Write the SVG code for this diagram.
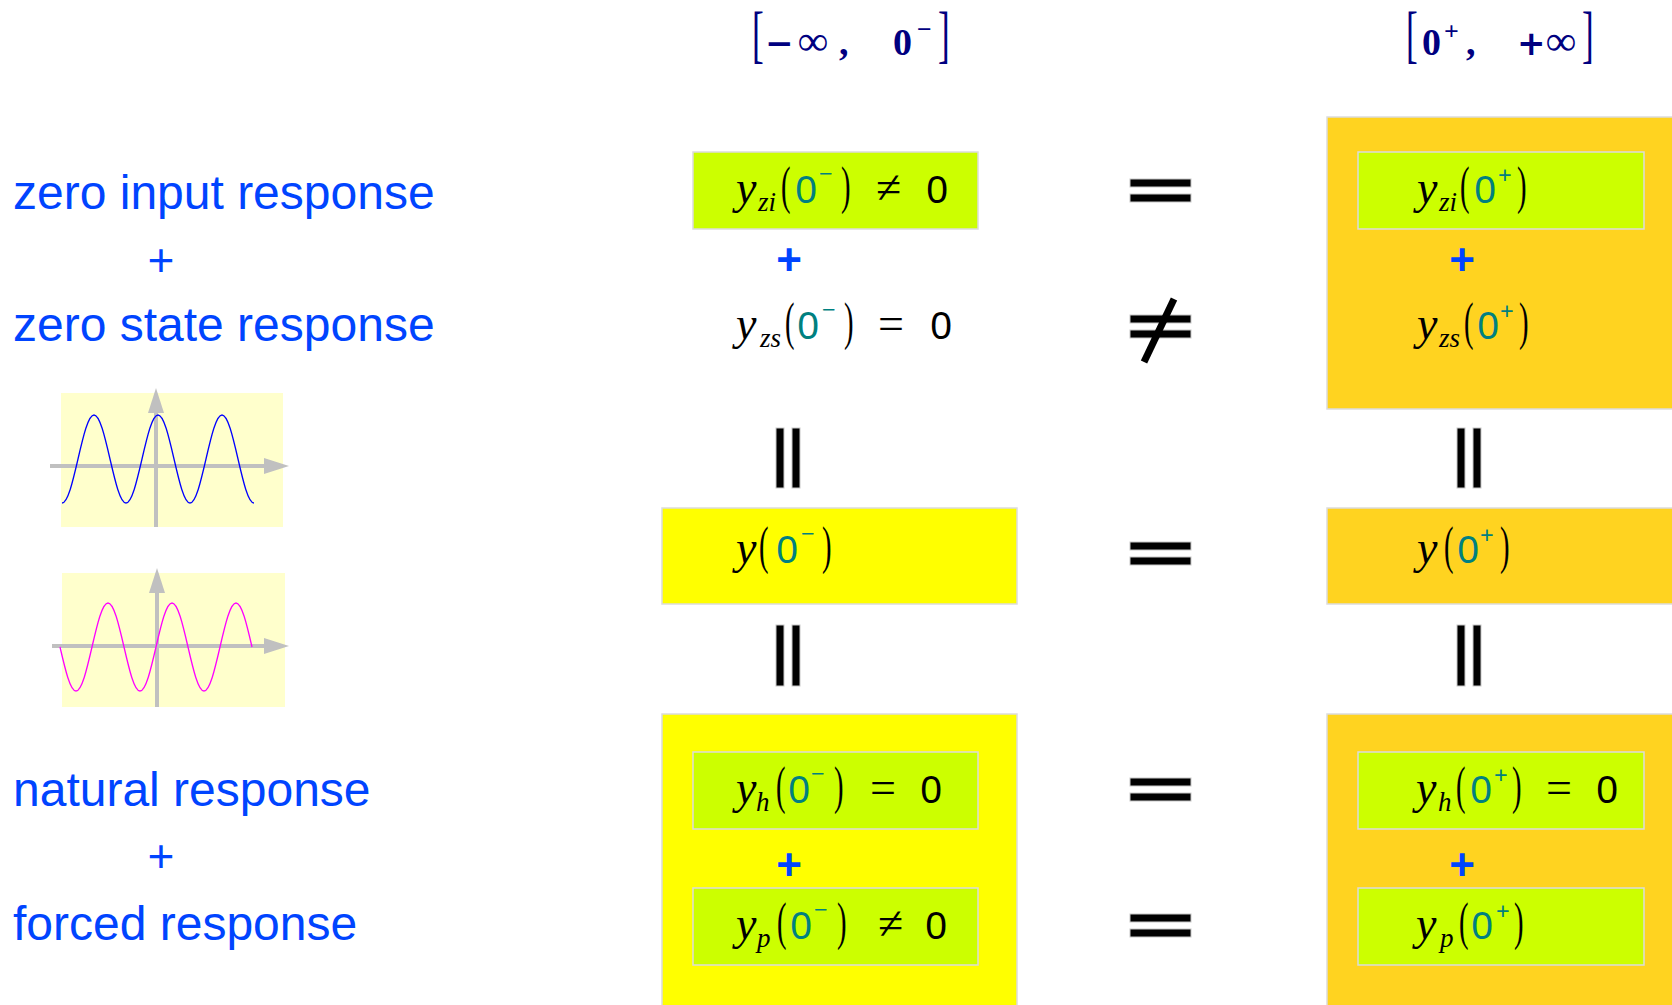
<svg xmlns="http://www.w3.org/2000/svg" width="1672" height="1005" viewBox="0 0 1672 1005">
<style>
.lbl{font-family:"Liberation Sans",Arial,sans-serif;font-size:48px;fill:#0044ff}
.plus{font-family:"Liberation Sans",Arial,sans-serif;font-size:46px;fill:#0044ff;text-anchor:middle}
.pb{font-weight:bold;font-size:44px}
.hdr{font-family:"Liberation Serif","Times New Roman",serif;font-weight:bold;font-size:38px;fill:#000080}
.hi{font-size:42px}
.hop{font-family:"DejaVu Sans",sans-serif;font-weight:bold;font-size:34px}
.hb{font-family:"Liberation Serif","Times New Roman",serif;font-weight:normal;font-size:64px;fill:#000080}
.hs{font-size:26px}
.mi{font-family:"Liberation Serif","Times New Roman",serif;font-style:italic;font-size:46px;fill:#000}
.sub{font-size:27px}
.par{font-family:"Liberation Serif","Times New Roman",serif;font-size:52px;fill:#000}
.num{font-family:"Noto Sans","DejaVu Sans",sans-serif;font-style:normal;font-size:39px;fill:#008080}
.sup{font-size:24px}
.op{font-family:"Liberation Serif","Times New Roman",serif;font-style:normal;font-size:46px;fill:#000}
.k{font-family:"Noto Sans","DejaVu Sans",sans-serif;font-style:normal;font-size:39px;fill:#000}
.grn{fill:#ccff00;stroke:#dcdcdc;stroke-width:1.5}
.yel{fill:#ffff00;stroke:#dcdcdc;stroke-width:1.5}
.org{fill:#ffd320;stroke:#dcdcdc;stroke-width:1.5}
.bar{fill:#000;stroke:#c8c8c8;stroke-width:1}
.axis{stroke:#c0c0c0;stroke-width:4;fill:none}
.plot{fill:#ffffcc}
</style>
<defs>
<marker id="garrow" viewBox="0 0 25 16" refX="0" refY="8" markerWidth="25" markerHeight="16" markerUnits="userSpaceOnUse" orient="auto">
<path d="M0,0 L25,8 L0,16 z" fill="#c0c0c0"/>
</marker>
</defs>

<!-- headers -->
<g id="header-minus">
<text class="hb" transform="translate(752,55) scale(0.55,1)">[</text>
<text class="hdr" y="55"><tspan class="hop" x="765">−</tspan><tspan class="hi" x="798">∞</tspan><tspan x="839">,</tspan><tspan x="893">0</tspan><tspan class="hs" x="917" y="38">−</tspan></text>
<text class="hb" transform="translate(938,55) scale(0.55,1)">]</text>
</g>
<g id="header-plus">
<text class="hb" transform="translate(1406,55) scale(0.55,1)">[</text>
<text class="hdr" y="55"><tspan x="1422">0</tspan><tspan class="hs" x="1444" y="40">+</tspan><tspan x="1466" y="55">,</tspan><tspan class="hop" x="1517">+</tspan><tspan class="hi" x="1546">∞</tspan></text>
<text class="hb" transform="translate(1582,55) scale(0.55,1)">]</text>
</g>

<!-- left labels -->
<g id="labels-left">
<text class="lbl" x="13" y="209">zero input response</text>
<text class="plus" x="161" y="276">+</text>
<text class="lbl" x="13" y="341">zero state response</text>
<text class="lbl" x="13" y="806">natural response</text>
<text class="plus" x="161" y="872">+</text>
<text class="lbl" x="13" y="940">forced response</text>
</g>

<!-- sine graphs -->
<g id="graph-cos">
<rect class="plot" x="61" y="393" width="222" height="134"/>
<line class="axis" x1="50" y1="466" x2="264" y2="466" marker-end="url(#garrow)"/>
<line class="axis" x1="156" y1="527" x2="156" y2="413" marker-end="url(#garrow)"/>
<path fill="none" stroke="#0000ff" stroke-width="1.3" d="M62,503 c5.79,0 10.78,-21.46 16,-44 c5.22,-22.54 10.21,-44 16,-44 c5.79,0 10.78,21.46 16,44 c5.22,22.54 10.21,44 16,44 c5.79,0 10.78,-21.46 16,-44 c5.22,-22.54 10.21,-44 16,-44 c5.79,0 10.78,21.46 16,44 c5.22,22.54 10.21,44 16,44 c5.79,0 10.78,-21.46 16,-44 c5.22,-22.54 10.21,-44 16,-44 c5.79,0 10.78,21.46 16,44 c5.22,22.54 10.21,44 16,44"/>
</g>
<g id="graph-sin">
<rect class="plot" x="62" y="573" width="223" height="134"/>
<line class="axis" x1="52" y1="646" x2="264" y2="646" marker-end="url(#garrow)"/>
<line class="axis" x1="157" y1="707" x2="157" y2="593" marker-end="url(#garrow)"/>
<path fill="none" stroke="#ff00ff" stroke-width="1.3" d="M60,647 c5.22,22.54 10.21,44 16,44 c5.79,0 10.78,-21.46 16,-44 c5.22,-22.54 10.21,-44 16,-44 c5.79,0 10.78,21.46 16,44 c5.22,22.54 10.21,44 16,44 c5.79,0 10.78,-21.46 16,-44 c5.22,-22.54 10.21,-44 16,-44 c5.79,0 10.78,21.46 16,44 c5.22,22.54 10.21,44 16,44 c5.79,0 10.78,-21.46 16,-44 c5.22,-22.54 10.21,-44 16,-44 c5.79,0 10.78,21.46 16,44"/>
</g>

<!-- middle column -->
<g id="mid-zi">
<rect class="grn" x="693" y="152" width="285" height="77"/>
<text class="mi" y="203"><tspan x="736">y</tspan><tspan class="sub" x="758" y="211">zi</tspan><tspan class="num" x="795" y="203">0</tspan><tspan class="num sup" x="819" y="182">−</tspan><tspan class="op" x="876" y="203">≠</tspan><tspan class="k" x="926">0</tspan></text>
<text class="par" transform="translate(781,203) scale(0.55,1)">(</text>
<text class="par" transform="translate(841,203) scale(0.55,1)">)</text>
</g>
<g id="mid-plus1"><text class="plus pb" x="789" y="275">+</text></g>
<g id="mid-zs">
<text class="mi" y="339"><tspan x="736">y</tspan><tspan class="sub" x="760" y="347">zs</tspan><tspan class="num" x="797" y="339">0</tspan><tspan class="num sup" x="822" y="318">−</tspan><tspan class="op" x="878" y="339">=</tspan><tspan class="k" x="930">0</tspan></text>
<text class="par" transform="translate(785,339) scale(0.55,1)">(</text>
<text class="par" transform="translate(844,339) scale(0.55,1)">)</text>
</g>
<g id="mid-y">
<rect class="yel" x="662" y="508" width="355" height="96"/>
<text class="mi" y="563"><tspan x="736">y</tspan><tspan class="num" x="776">0</tspan><tspan class="num sup" x="801" y="542">−</tspan></text>
<text class="par" transform="translate(759,563) scale(0.55,1)">(</text>
<text class="par" transform="translate(822,563) scale(0.55,1)">)</text>
</g>
<g id="mid-bottom">
<rect class="yel" x="662" y="714" width="355" height="300"/>
</g>
<g id="mid-h">
<rect class="grn" x="693" y="752" width="285" height="77"/>
<text class="mi" y="803"><tspan x="736">y</tspan><tspan class="sub" x="756" y="811">h</tspan><tspan class="num" x="788" y="803">0</tspan><tspan class="num sup" x="811" y="782">−</tspan><tspan class="op" x="870" y="803">=</tspan><tspan class="k" x="920">0</tspan></text>
<text class="par" transform="translate(776,803) scale(0.55,1)">(</text>
<text class="par" transform="translate(834,803) scale(0.55,1)">)</text>
</g>
<g id="mid-plus2"><text class="plus pb" x="789" y="880">+</text></g>
<g id="mid-p">
<rect class="grn" x="693" y="888" width="285" height="77"/>
<text class="mi" y="939"><tspan x="736">y</tspan><tspan class="sub" x="757" y="947">p</tspan><tspan class="num" x="790" y="939">0</tspan><tspan class="num sup" x="814" y="918">−</tspan><tspan class="op" x="878" y="939">≠</tspan><tspan class="k" x="925">0</tspan></text>
<text class="par" transform="translate(777,939) scale(0.55,1)">(</text>
<text class="par" transform="translate(837,939) scale(0.55,1)">)</text>
</g>

<!-- right column -->
<g id="right-top">
<rect class="org" x="1327" y="117" width="360" height="292"/>
</g>
<g id="right-zi">
<rect class="grn" x="1358" y="152" width="286" height="77"/>
<text class="mi" y="203"><tspan x="1417">y</tspan><tspan class="sub" x="1439" y="211">zi</tspan><tspan class="num" x="1474" y="203">0</tspan><tspan class="num sup" x="1498" y="184">+</tspan></text>
<text class="par" transform="translate(1460,203) scale(0.55,1)">(</text>
<text class="par" transform="translate(1517,203) scale(0.55,1)">)</text>
</g>
<g id="right-plus1"><text class="plus pb" x="1462" y="275">+</text></g>
<g id="right-zs">
<text class="mi" y="339"><tspan x="1417">y</tspan><tspan class="sub" x="1439" y="347">zs</tspan><tspan class="num" x="1477" y="339">0</tspan><tspan class="num sup" x="1500" y="320">+</tspan></text>
<text class="par" transform="translate(1464,339) scale(0.55,1)">(</text>
<text class="par" transform="translate(1519,339) scale(0.55,1)">)</text>
</g>
<g id="right-y">
<rect class="org" x="1327" y="508" width="360" height="96"/>
<text class="mi" y="563"><tspan x="1417">y</tspan><tspan class="num" x="1457">0</tspan><tspan class="num sup" x="1480" y="544">+</tspan></text>
<text class="par" transform="translate(1444,563) scale(0.55,1)">(</text>
<text class="par" transform="translate(1500,563) scale(0.55,1)">)</text>
</g>
<g id="right-bottom">
<rect class="org" x="1327" y="714" width="360" height="300"/>
</g>
<g id="right-h">
<rect class="grn" x="1358" y="752" width="286" height="77"/>
<text class="mi" y="803"><tspan x="1416">y</tspan><tspan class="sub" x="1438" y="811">h</tspan><tspan class="num" x="1470" y="803">0</tspan><tspan class="num sup" x="1494" y="784">+</tspan><tspan class="op" x="1546" y="803">=</tspan><tspan class="k" x="1596">0</tspan></text>
<text class="par" transform="translate(1456,803) scale(0.55,1)">(</text>
<text class="par" transform="translate(1512,803) scale(0.55,1)">)</text>
</g>
<g id="right-plus2"><text class="plus pb" x="1462" y="880">+</text></g>
<g id="right-p">
<rect class="grn" x="1358" y="888" width="286" height="77"/>
<text class="mi" y="939"><tspan x="1416">y</tspan><tspan class="sub" x="1440" y="947">p</tspan><tspan class="num" x="1471" y="939">0</tspan><tspan class="num sup" x="1496" y="920">+</tspan></text>
<text class="par" transform="translate(1459,939) scale(0.55,1)">(</text>
<text class="par" transform="translate(1514,939) scale(0.55,1)">)</text>
</g>

<!-- relation symbols between columns -->
<g id="connectors">
<rect class="bar" x="1130" y="179" width="61" height="8"/>
<rect class="bar" x="1130" y="194" width="61" height="8"/>
<rect class="bar" x="1130" y="315" width="61" height="8"/>
<rect class="bar" x="1130" y="330" width="61" height="8"/>
<line x1="1174" y1="299" x2="1144" y2="362" stroke="#000" stroke-width="7"/>
<rect class="bar" x="1130" y="542" width="61" height="8"/>
<rect class="bar" x="1130" y="557" width="61" height="8"/>
<rect class="bar" x="1130" y="778" width="61" height="8"/>
<rect class="bar" x="1130" y="793" width="61" height="8"/>
<rect class="bar" x="1130" y="914" width="61" height="8"/>
<rect class="bar" x="1130" y="929" width="61" height="8"/>
<rect class="bar" x="776" y="428" width="8" height="60"/>
<rect class="bar" x="792" y="428" width="8" height="60"/>
<rect class="bar" x="776" y="625" width="8" height="61"/>
<rect class="bar" x="792" y="625" width="8" height="61"/>
<rect class="bar" x="1457" y="428" width="8" height="60"/>
<rect class="bar" x="1473" y="428" width="8" height="60"/>
<rect class="bar" x="1457" y="625" width="8" height="61"/>
<rect class="bar" x="1473" y="625" width="8" height="61"/>
</g>
</svg>
